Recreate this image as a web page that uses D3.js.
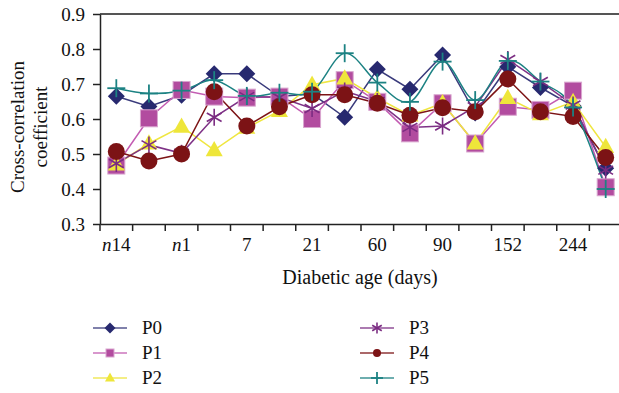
<!DOCTYPE html>
<html>
<head>
<meta charset="utf-8">
<script src="https://cdn.jsdelivr.net/npm/d3@7"></script>
<style>
  body { margin: 0; background: #fff; }
  svg, svg text { font-family: "Liberation Serif", "DejaVu Serif", serif; }
</style>
</head>
<body>
<svg width="619" height="393"></svg>
<script>
// categories (16 time points), only every other one is labelled
var categories = ['n14', 'n7', 'n1', '3', '7', '14', '21', '30', '60', '75', '90', '120', '152', '200', '244', '300'];
var tickLabels = ['n14', 'n1', '7', '21', '60', '90', '152', '244'];
var yTicks = [0.3, 0.4, 0.5, 0.6, 0.7, 0.8, 0.9];

var p0 = [0.665, 0.636, 0.668, 0.729, 0.729, 0.664, 0.672, 0.605, 0.742, 0.685, 0.783, 0.617, 0.749, 0.690, 0.637, 0.459];
var p1 = [0.467, 0.602, 0.683, 0.664, 0.661, 0.664, 0.600, 0.711, 0.649, 0.559, 0.645, 0.530, 0.635, 0.626, 0.681, 0.405];
var p2 = [0.470, 0.530, 0.578, 0.511, 0.575, 0.623, 0.698, 0.716, 0.660, 0.610, 0.645, 0.530, 0.660, 0.614, 0.649, 0.520];
var p3 = [0.473, 0.526, 0.502, 0.605, 0.664, 0.662, 0.630, 0.680, 0.650, 0.576, 0.580, 0.635, 0.770, 0.707, 0.640, 0.454];
var p4 = [0.507, 0.480, 0.500, 0.678, 0.580, 0.635, 0.669, 0.669, 0.645, 0.611, 0.632, 0.621, 0.714, 0.621, 0.607, 0.490];
var p5 = [0.688, 0.673, 0.681, 0.711, 0.666, 0.675, 0.678, 0.788, 0.704, 0.649, 0.764, 0.654, 0.766, 0.707, 0.633, 0.400];

var series = [
  {name: 'P0', values: p0, color: '#27296f', line: '#3a3b7c', symbol: 'diamond'},
  {name: 'P1', values: p1, color: '#b24c9f', line: '#c35cb2', symbol: 'square'},
  {name: 'P2', values: p2, color: '#eee63a', line: '#efe640', symbol: 'triangle'},
  {name: 'P3', values: p3, color: '#7b2c82', line: '#7e3186', symbol: 'asterisk'},
  {name: 'P4', values: p4, color: '#7c1315', line: '#7c1315', symbol: 'circle'},
  {name: 'P5', values: p5, color: '#1c8283', line: '#1c8283', symbol: 'plus', smooth: true}
];

var svg = d3.select('svg');
var mLeft = 100, mTop = 14, mBottom = 224, mRight = 622;

var x = d3.scaleBand().domain(categories).range([mLeft, mRight]);
var y = d3.scaleLinear().domain([0.3, 0.9]).range([mBottom, mTop]);
var cx = function(i){ return x(categories[i]) + x.bandwidth() / 2; };

// top border
svg.append('line')
  .attr('x1', mLeft).attr('x2', 619)
  .attr('y1', mTop).attr('y2', mTop)
  .attr('stroke', '#555').attr('stroke-width', 2);

// y axis
var yAxis = svg.append('g')
  .attr('transform', 'translate(' + mLeft + ',0)')
  .call(d3.axisLeft(y).tickValues(yTicks).tickFormat(d3.format('.1f')).tickSize(7).tickSizeOuter(0));
yAxis.attr('font-family', null).attr('font-size', 19);
yAxis.select('.domain').attr('stroke', '#222').attr('stroke-width', 1.5);
yAxis.selectAll('.tick line').attr('stroke', '#222').attr('stroke-width', 1.5);
yAxis.selectAll('text').attr('fill', '#111').attr('x', -15);

// x axis: ticks between categories, labels every other category
var xAxis = svg.append('g')
  .attr('transform', 'translate(0,' + mBottom + ')')
  .call(d3.axisBottom(x).tickSize(0).tickFormat(''));
xAxis.attr('font-family', null).attr('font-size', 19);
xAxis.select('.domain').attr('stroke', '#222').attr('stroke-width', 1.5);
xAxis.selectAll('.tick').remove();
xAxis.selectAll('.sep')
  .data(categories)
  .enter().append('line')
  .attr('x1', function(d){ return x(d); })
  .attr('x2', function(d){ return x(d); })
  .attr('y1', 0).attr('y2', 7)
  .attr('stroke', '#222').attr('stroke-width', 1.5);
xAxis.selectAll('.lbl')
  .data(tickLabels)
  .enter().append('text')
  .attr('x', function(d){ return x(d) + x.bandwidth() / 2; })
  .attr('y', 27)
  .attr('text-anchor', 'middle')
  .attr('fill', '#111')
  .each(function(d){
    var t = d3.select(this);
    if (d[0] === 'n') {
      t.append('tspan').attr('font-style', 'italic').text('n');
      t.append('tspan').text(d.slice(1));
    } else {
      t.text(d);
    }
  });

// axis titles
svg.append('text')
  .attr('x', 360).attr('y', 284)
  .attr('text-anchor', 'middle')
  .attr('font-size', 20).attr('fill', '#111')
  .text('Diabetic age (days)');

var yt = svg.append('text')
  .attr('transform', 'translate(24,127) rotate(-90)')
  .attr('text-anchor', 'middle')
  .attr('font-size', 19).attr('fill', '#111');
yt.append('tspan').attr('x', 0).attr('dy', 0).text('Cross-correlation');
yt.append('tspan').attr('x', 0).attr('dy', 23).text('coefficient');

// markers
function drawMarker(g, s, size) {
  var c = s.color;
  if (s.symbol === 'diamond') {
    var d = size / 2;
    g.append('path').attr('d', 'M0,' + (-d) + 'L' + d + ',0L0,' + d + 'L' + (-d) + ',0Z').attr('fill', c);
  } else if (s.symbol === 'square') {
    g.append('rect').attr('x', -size / 2).attr('y', -size / 2).attr('width', size).attr('height', size)
      .attr('fill', c).attr('stroke', '#d9a6cf').attr('stroke-width', 1);
  } else if (s.symbol === 'triangle') {
    var h = size * 0.9;
    g.append('path').attr('d', 'M0,' + (-h * 0.6) + 'L' + (size / 2) + ',' + (h * 0.4) + 'L' + (-size / 2) + ',' + (h * 0.4) + 'Z').attr('fill', c);
  } else if (s.symbol === 'circle') {
    g.append('circle').attr('r', size / 2).attr('fill', c);
  } else if (s.symbol === 'asterisk') {
    var r = size / 2;
    [[0, -r, 0, r], [-r * 0.87, -r * 0.5, r * 0.87, r * 0.5], [-r * 0.87, r * 0.5, r * 0.87, -r * 0.5]].forEach(function(l){
      g.append('line').attr('x1', l[0]).attr('y1', l[1]).attr('x2', l[2]).attr('y2', l[3])
        .attr('stroke', c).attr('stroke-width', 1.6);
    });
  } else if (s.symbol === 'plus') {
    var q = size / 2;
    g.append('line').attr('x1', -q).attr('x2', q).attr('y1', 0).attr('y2', 0).attr('stroke', c).attr('stroke-width', 1.8);
    g.append('line').attr('x1', 0).attr('x2', 0).attr('y1', -q).attr('y2', q).attr('stroke', c).attr('stroke-width', 1.8);
  }
}

var markerSize = {diamond: 17, square: 17, triangle: 17, circle: 17, asterisk: 17, plus: 18};

series.forEach(function(s){
  var line = d3.line()
    .x(function(d, i){ return cx(i); })
    .y(function(d){ return y(d); })
    .curve(s.smooth ? d3.curveCatmullRom.alpha(0) : d3.curveLinear);
  svg.append('path')
    .datum(s.values)
    .attr('d', line)
    .attr('fill', 'none')
    .attr('stroke', s.line)
    .attr('stroke-width', 1.5);
});

series.forEach(function(s){
  svg.append('g').selectAll('g')
    .data(s.values)
    .enter().append('g')
    .attr('transform', function(d, i){ return 'translate(' + cx(i) + ',' + y(d) + ')'; })
    .each(function(){ drawMarker(d3.select(this), s, markerSize[s.symbol]); });
});

// legend
var legendSize = {diamond: 11, square: 8, triangle: 10, circle: 8, asterisk: 11, plus: 12};
var leg = svg.append('g');
series.forEach(function(s, i){
  var col = Math.floor(i / 3), row = i % 3;
  var g = leg.append('g').attr('transform', 'translate(' + (93 + col * 267) + ',' + (328 + row * 25) + ')');
  g.append('line').attr('x1', 0).attr('x2', 34).attr('y1', 0).attr('y2', 0)
    .attr('stroke', s.line).attr('stroke-width', 1.5).attr('opacity', 0.85);
  var m = g.append('g').attr('transform', 'translate(17,0)');
  drawMarker(m, s, legendSize[s.symbol]);
  g.append('text').attr('x', 49).attr('y', 6)
    .attr('font-size', 19).attr('fill', '#111').text(s.name);
});
</script>
</body>
</html>
